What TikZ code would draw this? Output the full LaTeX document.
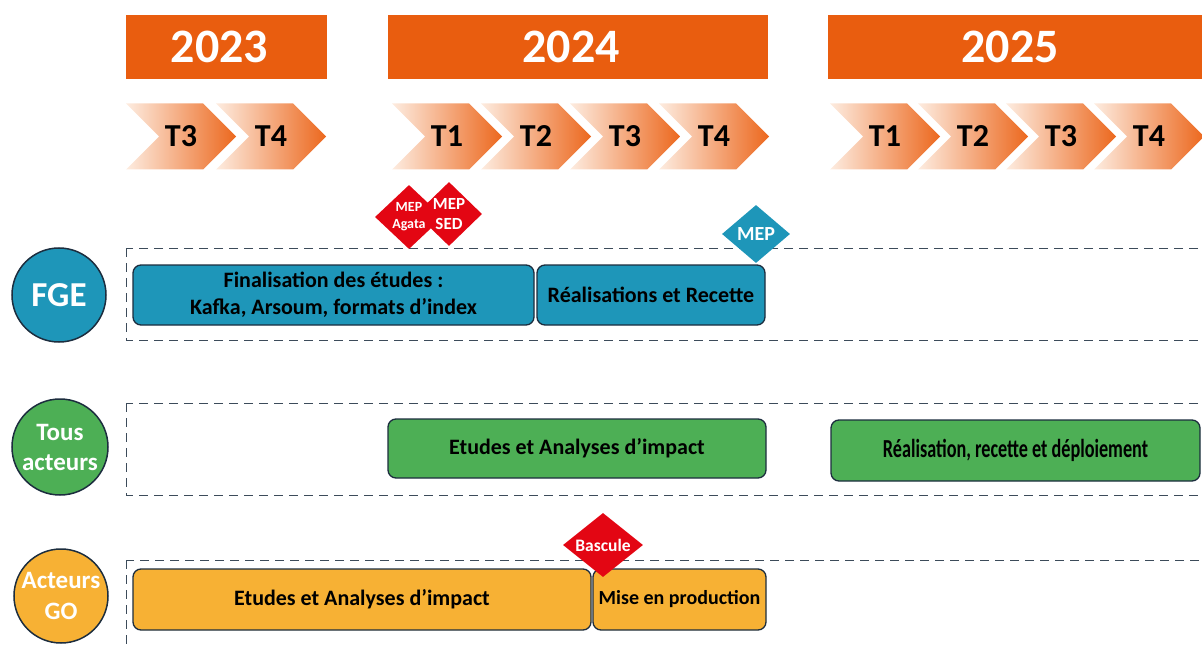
\documentclass[tikz,border=0pt]{standalone}
\usepackage{fontspec}
\setmainfont{Carlito}
\newfontfamily\narrowfont[FakeStretch=0.70]{Carlito}
\usetikzlibrary{shapes.symbols,shapes.geometric}

\definecolor{yearorange}{RGB}{233,93,15}
\definecolor{chevorange}{RGB}{236,104,30}
\definecolor{chevlight}{RGB}{253,236,224}
\definecolor{fgeblue}{RGB}{30,150,185}
\definecolor{tousgreen}{RGB}{77,175,85}
\definecolor{goorange}{RGB}{247,177,52}
\definecolor{mepred}{RGB}{227,6,19}
\definecolor{linenavy}{RGB}{28,45,62}
\definecolor{linegray}{RGB}{60,75,90}

\begin{document}
\begin{tikzpicture}[x=1pt, y=-1pt, every node/.style={font=\bfseries},%
        year/.style={fill=yearorange, text=white, minimum height=64pt, inner sep=0pt, font=\bfseries\fontsize{48}{48}\selectfont},
        quarter/.style={signal, signal from=west, signal to=east, signal pointer angle=90, minimum width=110pt, minimum height=66pt, inner sep=0pt, left color=chevlight, right color=chevorange, font=\bfseries\fontsize{32}{32}\selectfont},
        actor/.style={circle, draw=linenavy, line width=1.5pt, text=white, inner sep=0pt, align=center},
        task/.style={draw=linenavy, line width=1.3pt, rounded corners=8pt, inner sep=0pt, align=center, font=\bfseries\fontsize{22}{27}\selectfont},
        lane/.style={draw=linegray, line width=1pt, dash pattern=on 9pt off 6pt},
        jalon/.style={diamond, inner sep=0pt},
        jalontext/.style={text=white, inner sep=0pt, align=center}]
        \useasboundingbox (0,0) rectangle (1202,647);
        % annees
        \node[year, minimum width=201pt] (y2023) at (226.5,47) {2023\hspace*{14pt}};
        \node[year, minimum width=380pt] (y2024) at (578,47) {2024\hspace*{14pt}};
        \node[year, minimum width=374pt] (y2025) at (1015,47) {\raisebox{-4pt}{2025}\hspace*{10pt}};
        % trimestres
        \foreach \qx/\ql [count=\i] in {181/T3, 271/T4, 447/T1, 536/T2, 625/T3, 714/T4, 885/T1, 973/T2, 1061/T3, 1149/T4}
            \node[quarter] (q\i) at (\qx,136.5) {\ql};
        % couloirs
        \draw[lane] (126,248) rectangle (1230,340);
        \draw[lane] (126,403) rectangle (1230,495);
        \draw[lane] (126,560) rectangle (1230,690);
        % acteurs
        \node[actor, fill=fgeblue, minimum size=94pt, font=\bfseries\fontsize{35}{35}\selectfont] (fge) at (59,295) {FGE};
        \node[actor, fill=tousgreen, minimum size=96pt, font=\bfseries\fontsize{25}{30}\selectfont] (tous) at (60,447) {Tous\\acteurs};
        \node[actor, fill=goorange, minimum size=94pt, font=\bfseries\fontsize{25}{31}\selectfont] (go) at (61,596) {Acteurs\\GO};
        % taches
        \node[task, fill=fgeblue, minimum width=401pt, minimum height=60pt] (fgeetudes) at (333.5,295) {Finalisation des études :\\Kafka, Arsoum, formats d’index};
        \node[task, fill=fgeblue, minimum width=228pt, minimum height=60pt] (fgerecette) at (651,295) {Réalisations et Recette};
        \node[task, fill=tousgreen, minimum width=378pt, minimum height=59pt] (tousetudes) at (577,448.5) {Etudes et Analyses d’impact};
        \node[task, fill=tousgreen, minimum width=369pt, minimum height=61pt, font=\narrowfont\bfseries\fontsize{26}{26}\selectfont] (tousdeploi) at (1015.5,450.5) {Réalisation, recette et déploiement};
        \node[task, fill=goorange, minimum width=458pt, minimum height=61pt] (goetudes) at (362,599.5) {Etudes et Analyses d’impact};
        \node[task, fill=goorange, minimum width=173pt, minimum height=61pt, font=\bfseries\fontsize{20}{20}\selectfont] (goprod) at (679.5,599.5) {Mise en production};
        % jalons
        \node[jalon, fill=mepred, minimum width=68pt, minimum height=64pt] (mepagata) at (409,217) {};
        \node[jalon, fill=mepred, minimum width=66pt, minimum height=64pt] (mepsed) at (449,214) {};
        \node[jalon, fill=fgeblue, minimum width=68pt, minimum height=58pt] (mepfge) at (756,234) {};
        \node[jalon, fill=mepred, minimum width=80pt, minimum height=64pt] (bascule) at (603,545) {};
        \node[jalontext, font=\bfseries\fontsize{14}{17}\selectfont] (mepagatatxt) at (mepagata) {MEP\\Agata};
        \node[jalontext, font=\bfseries\fontsize{17}{20}\selectfont] (mepsedtxt) at (mepsed) {MEP\\SED};
        \node[jalontext, font=\bfseries\fontsize{20}{20}\selectfont] (mepfgetxt) at (mepfge) {MEP};
        \node[jalontext, font=\bfseries\fontsize{17.5}{17.5}\selectfont] (basculetxt) at (bascule) {Bascule};
    \end{tikzpicture}
\end{document}
